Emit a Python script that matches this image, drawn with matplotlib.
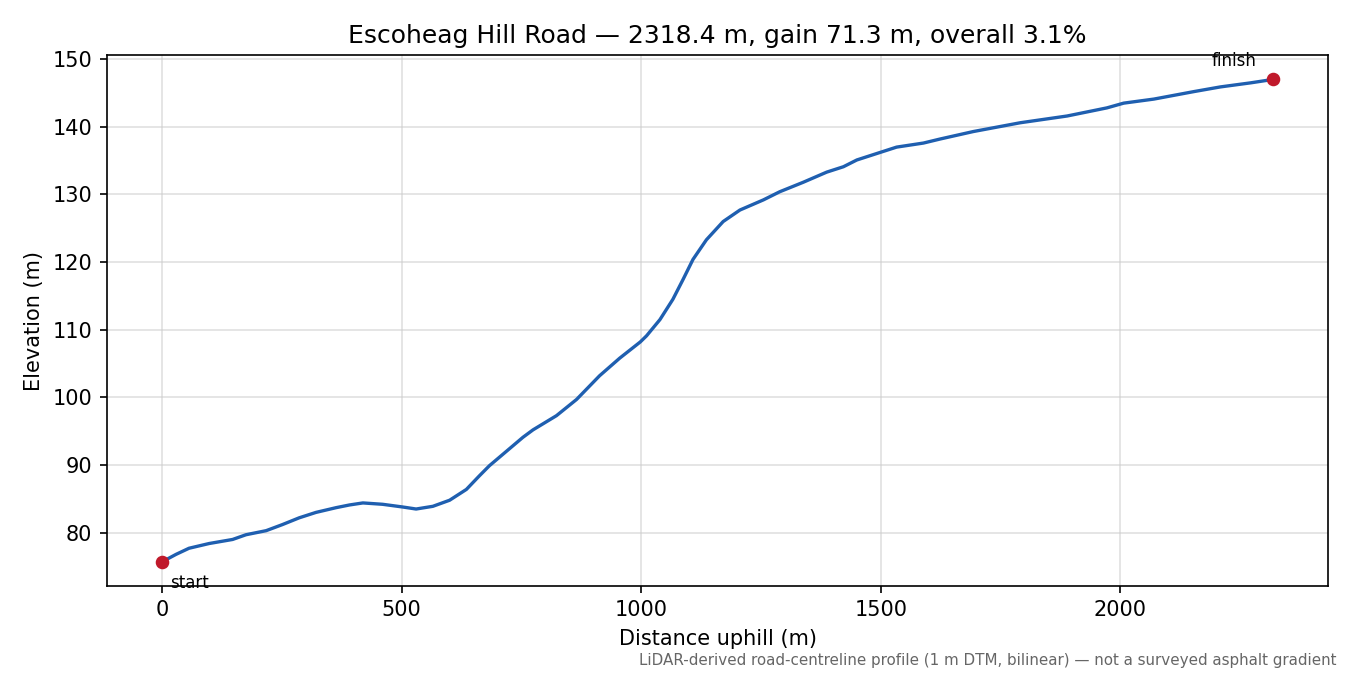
import matplotlib
matplotlib.use('Agg')
import matplotlib.pyplot as plt
import numpy as np

# Road profile (distance uphill, elevation)
distance_m = [0, 29, 56, 98, 147, 175, 217, 251, 286, 321, 363, 391, 419, 460,
              502, 530, 565, 600, 635, 662, 683, 718, 753, 774, 823, 865, 913,
              955, 998, 1011, 1039, 1066, 1087, 1108, 1136, 1171, 1206, 1255,
              1289, 1338, 1387, 1422, 1450, 1498, 1533, 1589, 1624, 1693, 1791,
              1889, 1972, 2007, 2070, 2153, 2209, 2272, 2318.4]
elevation_m = [75.7, 76.8, 77.7, 78.4, 79.0, 79.7, 80.3, 81.2, 82.2, 83.0, 83.7,
               84.1, 84.4, 84.2, 83.8, 83.5, 83.9, 84.8, 86.4, 88.4, 89.9, 92.0,
               94.1, 95.2, 97.3, 99.7, 103.2, 105.8, 108.2, 109.1, 111.5, 114.5,
               117.4, 120.4, 123.3, 126.0, 127.7, 129.2, 130.4, 131.8, 133.3,
               134.1, 135.1, 136.2, 137.0, 137.6, 138.2, 139.3, 140.6, 141.6,
               142.8, 143.5, 144.1, 145.2, 145.9, 146.5, 147.0]

road_name = 'Escoheag Hill Road'
total_length = 2318.4
gain = 71.3
overall_grade = 3.1
footer = 'LiDAR-derived road-centreline profile (1 m DTM, bilinear) — not a surveyed asphalt gradient'

fig, ax = plt.subplots(figsize=(9, 4.5), dpi=150)
fig.subplots_adjust(left=0.079, right=0.984, top=0.918, bottom=0.132)

x = np.array(distance_m)
y = np.array(elevation_m)

ax.plot(x, y, color='#1f5fb0', lw=1.6, zorder=2, solid_joinstyle='round')
ax.plot([x[0], x[-1]], [y[0], y[-1]], 'o', color='#c0192b', ms=5.5, zorder=3)

ax.annotate('start', (x[0], y[0]), xytext=(4, -10), textcoords='offset points',
            ha='left', va='center', fontsize=8)
ax.annotate('finish', (x[-1], y[-1]), xytext=(-8, 9), textcoords='offset points',
            ha='right', va='center', fontsize=8)

ax.grid(True, color='#cccccc', alpha=0.6, lw=0.8)
ax.set_axisbelow(True)
ax.set_xlabel('Distance uphill (m)')
ax.set_ylabel('Elevation (m)')
ax.set_title(f'{road_name} — {total_length:.1f} m, gain {gain:.1f} m, overall {overall_grade:.1f}%')

fig.text(0.99, 0.022, footer, ha='right', va='center', fontsize=7.25, color='#666666')

plt.savefig('out.png', dpi=150)
plt.close()
